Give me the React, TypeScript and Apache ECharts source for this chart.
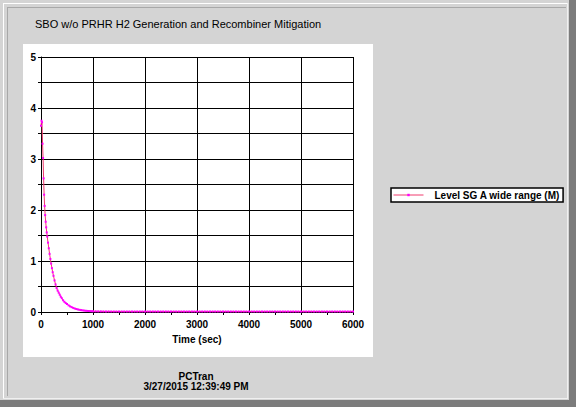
import React, { useEffect, useRef } from "react";
import * as echarts from "echarts";

const titleText = "SBO w/o PRHR H2 Generation and Recombiner Mitigation";
const seriesName = "Level SG A wide range (M)";
const xAxisName = "Time (sec)";
const footerLine1 = "PCTran";
const footerLine2 = "3/27/2015 12:39:49 PM";

const timesEarly = [0, 10, 20, 30, 40, 50, 60, 70, 80, 90, 100, 110, 120, 135, 150, 165, 180, 195, 210, 225, 240, 260, 280, 300, 320, 340, 360, 380, 400, 425, 450, 475, 500, 530, 560, 590, 620, 650, 680, 710, 740, 770, 800, 830, 860, 890, 920, 950, 975, 1000];
const valuesEarly = [3.65, 3.75, 3.72, 3.3, 3.02, 2.62, 2.3, 2.08, 1.9, 1.77, 1.66, 1.56, 1.48, 1.36, 1.25, 1.14, 1.04, 0.95, 0.86, 0.78, 0.71, 0.62, 0.54, 0.47, 0.42, 0.38, 0.34, 0.3, 0.27, 0.23, 0.2, 0.175, 0.155, 0.13, 0.11, 0.095, 0.08, 0.068, 0.058, 0.05, 0.043, 0.037, 0.032, 0.028, 0.024, 0.021, 0.019, 0.017, 0.015, 0.014];
const timesLate = [1050, 1100, 1150, 1200, 1250, 1300, 1350, 1400, 1450, 1500, 1550, 1600, 1650, 1700, 1750, 1800, 1850, 1900, 1950, 2000, 2050, 2100, 2150, 2200, 2250, 2300, 2350, 2400, 2450, 2500, 2550, 2600, 2650, 2700, 2750, 2800, 2850, 2900, 2950, 3000, 3050, 3100, 3150, 3200, 3250, 3300, 3350, 3400, 3450, 3500, 3550, 3600, 3650, 3700, 3750, 3800, 3850, 3900, 3950, 4000, 4050, 4100, 4150, 4200, 4250, 4300, 4350, 4400, 4450, 4500, 4550, 4600, 4650, 4700, 4750, 4800, 4850, 4900, 4950, 5000, 5050, 5100, 5150, 5200, 5250, 5300, 5350, 5400, 5450, 5500, 5550, 5600, 5650, 5700, 5750, 5800, 5850, 5900, 5950, 6000];
const valuesLate = [0.013, 0.012, 0.012, 0.011, 0.011, 0.011, 0.01, 0.01, 0.01, 0.01, 0.01, 0.01, 0.01, 0.01, 0.01, 0.01, 0.01, 0.01, 0.01, 0.01, 0.01, 0.01, 0.01, 0.01, 0.01, 0.01, 0.01, 0.01, 0.01, 0.01, 0.01, 0.01, 0.01, 0.01, 0.01, 0.01, 0.01, 0.01, 0.01, 0.01, 0.01, 0.01, 0.01, 0.01, 0.01, 0.01, 0.01, 0.01, 0.01, 0.01, 0.01, 0.01, 0.01, 0.01, 0.01, 0.01, 0.01, 0.01, 0.01, 0.01, 0.01, 0.01, 0.01, 0.01, 0.01, 0.01, 0.01, 0.01, 0.01, 0.01, 0.01, 0.01, 0.01, 0.01, 0.01, 0.01, 0.01, 0.01, 0.01, 0.01, 0.01, 0.01, 0.01, 0.01, 0.01, 0.01, 0.01, 0.01, 0.01, 0.01, 0.01, 0.01, 0.01, 0.01, 0.01, 0.01, 0.01, 0.01, 0.01, 0.01];

const xTicks = [0, 1000, 2000, 3000, 4000, 5000, 6000];
const yTickLabels = [0, 1, 2, 3, 4, 5];

const FONT = "'Liberation Sans', Arial, sans-serif";

export default function App() {
  const ref = useRef<HTMLDivElement>(null);
  useEffect(() => {
    if (!ref.current) return;
    const chart = echarts.init(ref.current, undefined, { renderer: "svg" });
    const data: [number, number][] = [];
    timesEarly.forEach((t, i) => data.push([t, valuesEarly[i]]));
    timesLate.forEach((t, i) => data.push([t, valuesLate[i]]));
    chart.setOption({
      animation: false,
      backgroundColor: "#d4d4d4",
      graphic: [
        { type: "rect", z: -10, shape: { x: 0, y: 0, width: 576, height: 407 }, style: { fill: "#d4d4d4" } },
        { type: "rect", z: -9, shape: { x: 569, y: 0, width: 7, height: 407 }, style: { fill: "#7c7c7c" } },
        { type: "rect", z: -9, shape: { x: 0, y: 400, width: 576, height: 7 }, style: { fill: "#7c7c7c" } },
        { type: "line", z: -8, shape: { x1: 3, y1: 3.5, x2: 568, y2: 3.5 }, style: { stroke: "#ffffff", lineWidth: 1 } },
        { type: "line", z: -8, shape: { x1: 3.5, y1: 3, x2: 3.5, y2: 399 }, style: { stroke: "#ffffff", lineWidth: 1 } },
        { type: "line", z: -8, shape: { x1: 567.5, y1: 3, x2: 567.5, y2: 399 }, style: { stroke: "#f0f0f0", lineWidth: 1 } },
        { type: "line", z: -8, shape: { x1: 3, y1: 398.5, x2: 568, y2: 398.5 }, style: { stroke: "#f0f0f0", lineWidth: 1 } },
        { type: "line", z: -8, shape: { x1: 7, y1: 7.5, x2: 566, y2: 7.5 }, style: { stroke: "#a8a8a8", lineWidth: 1 } },
        { type: "line", z: -8, shape: { x1: 7.5, y1: 7, x2: 7.5, y2: 396 }, style: { stroke: "#a8a8a8", lineWidth: 1 } },
        { type: "rect", z: -7, shape: { x: 23, y: 44, width: 350, height: 313 }, style: { fill: "#ffffff" } },
        { type: "text", x: 35, y: 18, style: { text: titleText, font: `11px ${FONT}`, fill: "#000" } },
        { type: "text", x: 196, y: 371, style: { text: footerLine1, font: `bold 10px ${FONT}`, fill: "#000", align: "center" } },
        { type: "text", x: 196, y: 381, style: { text: footerLine2, font: `bold 10px ${FONT}`, fill: "#000", align: "center" } }
      ],
      legend: {
        left: 391,
        top: 188,
        orient: "vertical",
        backgroundColor: "#ffffff",
        borderColor: "#000000",
        borderWidth: 1.5,
        borderRadius: 0,
        padding: [2, 3, 2, 2],
        itemWidth: 30,
        itemHeight: 3,
        itemGap: 0,
        lineStyle: { color: "#f03c6e", width: 1 },
        itemStyle: { color: "#ff00ff" },
        textStyle: { fontFamily: FONT, fontWeight: "bold", fontSize: 10, color: "#000", padding: [0, 0, 0, 6] },
        data: [seriesName]
      },
      grid: { left: 41, top: 57, right: 223, bottom: 95, containLabel: false, show: false },
      xAxis: {
        type: "value",
        min: 0,
        max: 6000,
        interval: 1000,
        name: xAxisName,
        nameLocation: "middle",
        nameGap: 22,
        nameTextStyle: { fontFamily: FONT, fontWeight: "bold", fontSize: 10, color: "#000" },
        axisLine: { show: true, onZero: false, lineStyle: { color: "#000", width: 1 } },
        axisTick: { show: true, length: 3, inside: false, lineStyle: { color: "#000" } },
        minorTick: { show: true, splitNumber: 2, length: 3, lineStyle: { color: "#000" } },
        axisLabel: {
          margin: 7,
          fontFamily: FONT,
          fontWeight: "bold",
          fontSize: 10,
          color: "#000",
          formatter: (v: number) => (xTicks.includes(v) ? String(v) : "")
        },
        splitLine: { show: true, lineStyle: { color: "#000", width: 1 } }
      },
      yAxis: {
        type: "value",
        min: 0,
        max: 5,
        interval: 0.5,
        axisLine: { show: true, lineStyle: { color: "#000", width: 1 } },
        axisTick: { show: true, length: 3, lineStyle: { color: "#000" } },
        axisLabel: {
          margin: 5,
          fontFamily: FONT,
          fontWeight: "bold",
          fontSize: 10,
          color: "#000",
          formatter: (v: number) => (yTickLabels.includes(v) ? String(v) : "")
        },
        splitLine: { show: true, lineStyle: { color: "#000", width: 1 } }
      },
      series: [
        {
          name: seriesName,
          type: "line",
          data,
          symbol: "rect",
          symbolSize: 2,
          showSymbol: true,
          showAllSymbol: true,
          itemStyle: { color: "#ff00ff" },
          lineStyle: { color: "#f03c6e", width: 1 },
          clip: true
        }
      ]
    });
    return () => chart.dispose();
  }, []);
  return (
    <div
      ref={ref}
      style={{ position: "fixed", left: 0, top: 0, width: 576, height: 407 }}
    />
  );
}
